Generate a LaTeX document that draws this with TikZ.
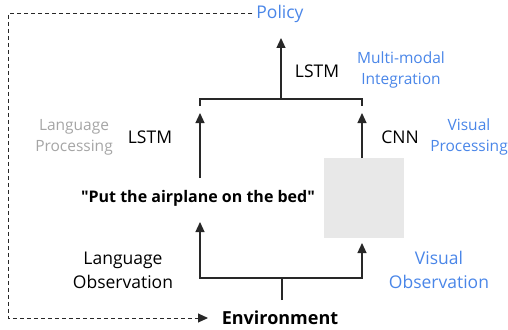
\documentclass[tikz,border=0pt]{standalone}
\usepackage{fontspec}
\setmainfont{Open Sans}[Ligatures=TeXOff]
\usetikzlibrary{arrows.meta,positioning,calc}
\definecolor{polblue}{RGB}{74,134,232}
\definecolor{procgray}{RGB}{165,165,165}
\definecolor{imgfill}{RGB}{232,232,232}
\definecolor{wire}{RGB}{40,40,40}
\tikzset{
  lbl/.style={font=\fontsize{17.5}{24}\selectfont, align=center, inner sep=0pt},
  note/.style={font=\fontsize{15.5}{21}\selectfont, align=center, inner sep=0pt},
  wireline/.style={draw=wire, line width=1.2pt},
  arr/.style={wireline, -{Triangle[length=10pt,width=9pt]}},
  fb/.style={draw=wire, line width=1pt, dash pattern=on 4pt off 3pt, -{Triangle[length=10pt,width=9pt]}}
}
\begin{document}
\begin{tikzpicture}[x=1pt,y=-1pt]
  \useasboundingbox (0,0) rectangle (508,329);
  \node[lbl, text=polblue] (policy) at (280,14) {Policy};
  \node[lbl] (lstmT) at (317,71) {LSTM};
  \node[note, text=polblue] (integ) at (401,70) {Multi-modal\\Integration};
  \node[note, text=procgray] (langproc) at (74,137) {Language\\Processing};
  \node[lbl] (lstmL) at (150,137) {LSTM};
  \node[lbl] (cnn) at (400,137) {CNN};
  \node[note, text=polblue] (visproc) at (469,137) {Visual\\Processing};
  \node[font=\bfseries\fontsize{16}{20}\selectfont, inner sep=0pt] (sent) at (198,198) {"Put the airplane on the bed"};
  \node[fill=imgfill, minimum width=80pt, minimum height=80pt, inner sep=0pt] (img) at (364,198) {};
  \node[lbl] (langobs) at (123,270) {Language\\Observation};
  \node[lbl, text=polblue] (visobs) at (439,270) {Visual\\Observation};
  \node[font=\bfseries\fontsize{18}{22}\selectfont, inner sep=0pt] (env) at (280,318) {Environment};

  \coordinate (envTop) at (282,300);
  \coordinate (obsC) at (282,278);
  \coordinate (sentIn) at (200,222);
  \coordinate (imgIn) at (362,243);
  \coordinate (sentOut) at (200,178);
  \coordinate (imgOut) at (362,158);
  \coordinate (lstmIn) at (200,113);
  \coordinate (cnnIn) at (362,113);
  \coordinate (tickL) at (200,106);
  \coordinate (tickR) at (362,106);
  \coordinate (fuseL) at (200,99);
  \coordinate (fuseC) at (281,99);
  \coordinate (fuseR) at (362,99);
  \coordinate (polIn) at (281,38);
  \coordinate (fbTL) at (8,14);
  \coordinate (fbBL) at (8,318);
  \coordinate (envIn) at (208,318);

  \draw[wireline] (envTop) -- (obsC);
  \draw[arr] (obsC) -| (sentIn);
  \draw[arr] (obsC) -| (imgIn);
  \draw[arr] (sentOut) -- (lstmIn);
  \draw[arr] (imgOut) -- (cnnIn);
  \draw[wireline] (tickL) -- (fuseL) -- (fuseR) -- (tickR);
  \draw[arr] (fuseC) -- (polIn);
  \draw[fb] ([xshift=-4pt]policy.west) -- (fbTL) -- (fbBL) -- (envIn);
\end{tikzpicture}
\end{document}
